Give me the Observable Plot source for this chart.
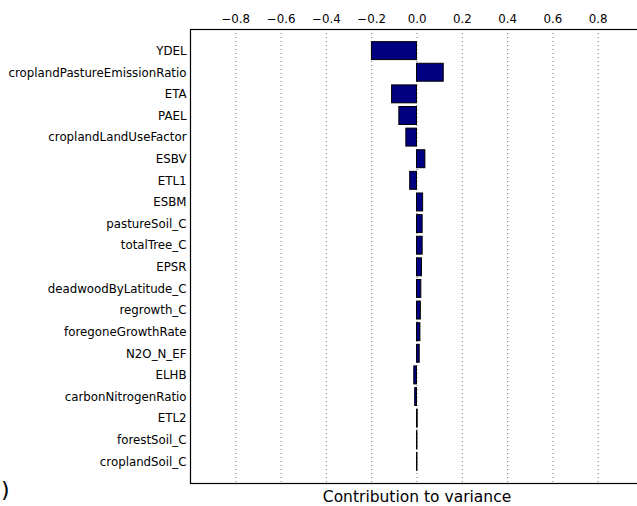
<!DOCTYPE html>
<html>
<head>
<meta charset="utf-8">
<script src="https://cdn.jsdelivr.net/npm/d3@7"></script>
<script src="https://cdn.jsdelivr.net/npm/@observablehq/plot@0.6"></script>
<style>
  html, body { margin: 0; padding: 0; background: #fff; overflow: hidden; }
  #wrap { position: relative; width: 637px; height: 506px; overflow: hidden; }
  #chart svg { max-width: none !important; width: 650px !important; height: 506px !important; display: block; }
  #paren { position: absolute; left: 1px; top: 477px; font: 22px "DejaVu Sans", sans-serif; color: #000; line-height: 26px; }
</style>
</head>
<body>
<div id="wrap"><div id="chart"></div><div id="paren">)</div></div>
<script>
const parameters = [
  "YDEL", "croplandPastureEmissionRatio", "ETA", "PAEL", "croplandLandUseFactor",
  "ESBV", "ETL1", "ESBM", "pastureSoil_C", "totalTree_C", "EPSR",
  "deadwoodByLatitude_C", "regrowth_C", "foregoneGrowthRate", "N2O_N_EF",
  "ELHB", "carbonNitrogenRatio", "ETL2", "forestSoil_C", "croplandSoil_C"
];
const contributions = [
  -0.199, 0.118, -0.110, -0.078, -0.047,
  0.037, -0.030, 0.027, 0.025, 0.025, 0.022,
  0.019, 0.017, 0.015, 0.012,
  -0.012, -0.008, 0.003, 0.002, 0.002
];
const xTicks = [-0.8, -0.6, -0.4, -0.2, 0.0, 0.2, 0.4, 0.6, 0.8];
const axisLabel = "Contribution to variance";

const data = parameters.map((p, i) => ({name: p, value: contributions[i]}));
const fmt = d => d.toFixed(1).replace("-", "\u2212");

const chart = Plot.plot({
  width: 650,
  height: 506,
  marginLeft: 190,
  marginRight: 7,
  marginTop: 29,
  marginBottom: 23,
  style: {fontFamily: "DejaVu Sans, sans-serif", background: "#fff", color: "#000", maxWidth: "none"},
  x: {domain: [-1, 1]},
  y: {domain: parameters, paddingInner: 0.17, paddingOuter: 0.585, round: false},
  marks: [
    Plot.gridX(xTicks, {stroke: "#777", strokeOpacity: 1, strokeDasharray: "1,3"}),
    Plot.barX(data, {x: "value", y: "name", fill: "#000080", stroke: "#000", strokeWidth: 1}),
    Plot.axisX(xTicks, {anchor: "top", tickSize: 0, tickPadding: 7, tickFormat: fmt, fontSize: 11.8, label: null}),
    Plot.axisY({anchor: "left", tickSize: 0, tickPadding: 4, fontSize: 11.8, label: null}),
    Plot.frame({stroke: "#000", strokeWidth: 1.2}),
    Plot.text([axisLabel], {frameAnchor: "bottom", dy: 14, fontSize: 15.5, text: d => d, lineAnchor: "middle"})
  ]
});
document.getElementById("chart").appendChild(chart);
</script>
</body>
</html>
